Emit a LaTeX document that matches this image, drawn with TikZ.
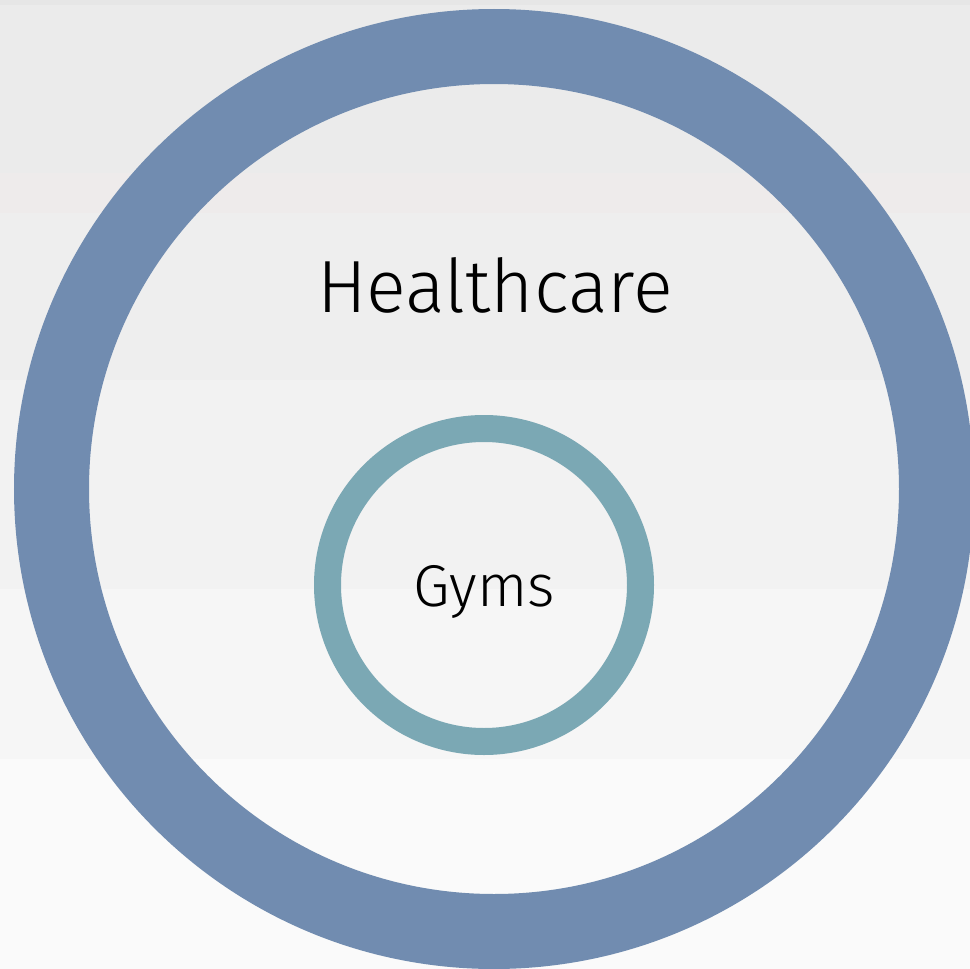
\documentclass[tikz,border=0pt]{standalone}
\usepackage{fontspec}
\setmainfont{Fira Sans Light}
\begin{document}
\begin{tikzpicture}[x=1pt,y=-1pt,
  ring/.style={draw=#1, fill=none},
  label/.style={text=black, inner sep=0pt, anchor=base}]
\definecolor{bandA}{HTML}{E6E6E6}
\definecolor{bandB}{HTML}{EBEBEB}
\definecolor{bandC}{HTML}{EEEBEB}
\definecolor{bandD}{HTML}{EEEEEE}
\definecolor{bandE}{HTML}{F2F2F2}
\definecolor{bandF}{HTML}{F6F6F6}
\definecolor{bandG}{HTML}{FAFAFA}
\definecolor{outerblue}{HTML}{718CB0}
\definecolor{innerteal}{HTML}{7BA8B4}
\useasboundingbox (0,0) rectangle (970,969);
% banded background
\fill[bandA] (0,0) rectangle (970,5);
\fill[bandB] (0,5) rectangle (970,173);
\fill[bandC] (0,173) rectangle (970,213);
\fill[bandD] (0,213) rectangle (970,380);
\fill[bandE] (0,380) rectangle (970,589);
\fill[bandF] (0,589) rectangle (970,759);
\fill[bandG] (0,759) rectangle (970,969);
% rings
\coordinate (oc) at (494,489);
\coordinate (ic) at (484,585);
\draw[ring=outerblue, line width=75pt] (oc) circle[radius=442.5];
\draw[ring=innerteal, line width=27pt] (ic) circle[radius=156.5];
% labels
\node[label, font=\fontsize{74}{78}\selectfont] (health) at (495,312) {Healthcare};
\node[label, font=\fontsize{59}{62}\selectfont] (gyms) at (484,606) {Gyms};
\end{tikzpicture}
\end{document}
